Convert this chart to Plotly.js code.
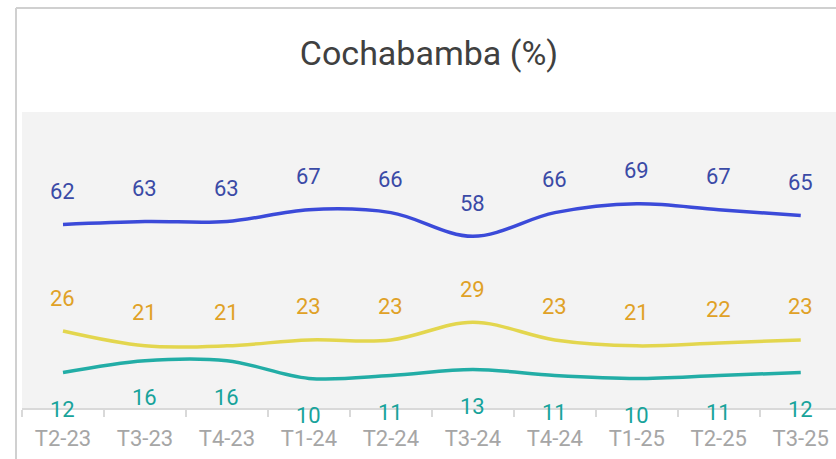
<!DOCTYPE html>
<html><head><meta charset="utf-8">
<script src="https://cdn.plot.ly/plotly-3.0.1.min.js"></script>
<style>html,body{margin:0;padding:0;background:#fff;}#chart{width:836px;height:459px;}</style>
</head><body><div id="chart"></div>
<script>
var categories = ["T2-23","T3-23","T4-23","T1-24","T2-24","T3-24","T4-24","T1-25","T2-25","T3-25"];
var seriesA = [62,63,63,67,66,58,66,69,67,65];
var seriesB = [26,21,21,23,23,29,23,21,22,23];
var seriesC = [12,16,16,10,11,13,11,10,11,12];

var lineColors = ["#3b4ad9","#e3d64e","#22ada6"];
var labelColors = ["#3a4aa6","#e0a126","#18a39b"];
var shifts = [33,33,-37];
var all = [seriesA,seriesB,seriesC];

var traces = all.map(function(s,i){
  return {x:categories,y:s,type:'scatter',mode:'lines',
    line:{color:lineColors[i],width:3.5,shape:'spline',smoothing:1},hoverinfo:'skip'};
});
var annotations = [];
all.forEach(function(s,i){
  s.forEach(function(v,j){
    annotations.push({x:categories[j],y:v,xref:'x',yref:'y',text:String(v),showarrow:false,
      yshift:shifts[i],font:{family:'Roboto',size:22,color:labelColors[i]}});
  });
});
var H = 296;
var layout = {
  width:836,height:459,
  margin:{l:22,r:0,t:112,b:51},
  paper_bgcolor:'#ffffff',plot_bgcolor:'#f3f3f3',
  showlegend:false,
  title:{text:'Cochabamba (%)',x:0.5,xref:'paper',y:1-53/459,yref:'container',yanchor:'middle',
    font:{family:'Roboto',size:34,color:'#404040'}},
  xaxis:{type:'category',range:[-0.5,9.43],showgrid:false,zeroline:false,
    showline:true,linecolor:'#d9d9d9',linewidth:2,ticks:'outside',tickson:'boundaries',
    ticklen:7,tickcolor:'#d9d9d9',tickwidth:2,ticklabelstandoff:10,
    tickfont:{family:'Roboto',size:22,color:'#a6a6a6'}},
  yaxis:{range:[0,100],visible:false,fixedrange:true},
  annotations:annotations,
  shapes:[
    {type:'line',xref:'paper',yref:'paper',x0:-6/814,x1:-6/814,y0:-60/H,y1:400/H,line:{color:'#d0d0d0',width:2}},
    {type:'line',xref:'paper',yref:'paper',x0:-6/814,x1:1.01,y0:400/H,y1:400/H,line:{color:'#d0d0d0',width:2}}
  ]
};
Plotly.newPlot('chart',traces,layout,{displayModeBar:false,staticPlot:true});
</script></body></html>
